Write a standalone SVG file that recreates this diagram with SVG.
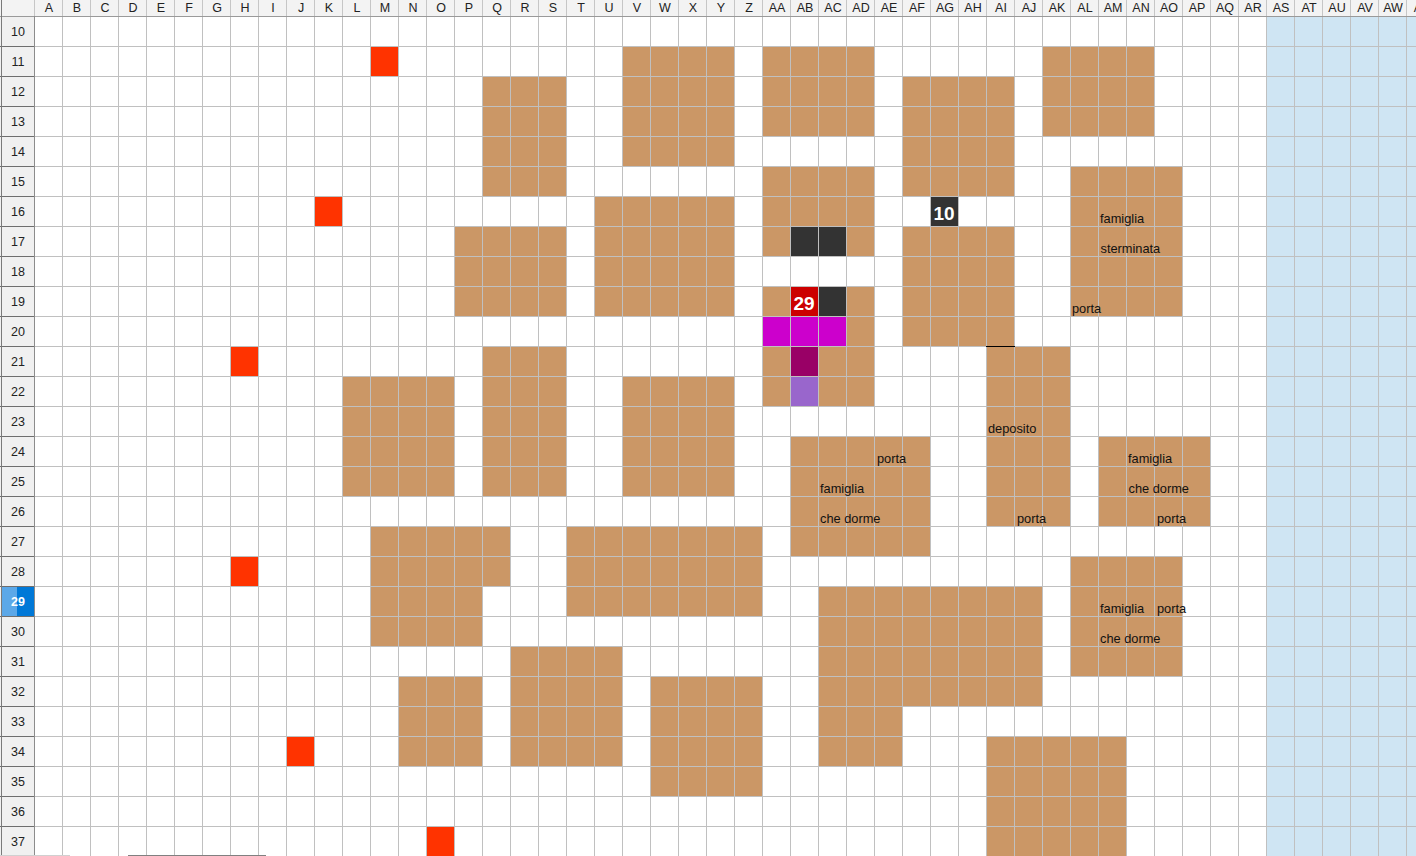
<svg xmlns="http://www.w3.org/2000/svg" width="1416" height="856" viewBox="0 0 1416 856">
<style>
.b{fill:#CB9766}
.r{fill:#FF3300}
.k{fill:#333333}
.lbl{font-family:"Liberation Sans",Arial,sans-serif;font-size:12.8px;fill:#111}
.num{font-family:"Liberation Sans",Arial,sans-serif;font-size:19px;font-weight:bold;fill:#fff;text-anchor:middle}
.ch{font-family:"Liberation Sans",Arial,sans-serif;font-size:12.5px;fill:#222;text-anchor:middle}
.rh{font-family:"Liberation Sans",Arial,sans-serif;font-size:12.5px;fill:#222;text-anchor:middle}
</style>
<rect x="0" y="0" width="1416" height="856" fill="#fff"/>
<rect x="1266" y="16" width="150" height="840" fill="#CFE5F3"/>

<g id="blocks">
<rect class="b" x="482" y="76" width="84" height="120"/>
<rect class="b" x="622" y="46" width="112" height="120"/>
<rect class="b" x="762" y="46" width="112" height="90"/>
<rect class="b" x="902" y="76" width="112" height="120"/>
<rect class="b" x="1042" y="46" width="112" height="90"/>
<rect class="b" x="1070" y="166" width="112" height="150"/>
<rect class="b" x="762" y="166" width="112" height="90"/>
<rect class="b" x="762" y="286" width="112" height="120"/>
<rect class="b" x="594" y="196" width="140" height="120"/>
<rect class="b" x="454" y="226" width="112" height="90"/>
<rect class="b" x="902" y="226" width="112" height="120"/>
<rect class="b" x="482" y="346" width="84" height="150"/>
<rect class="b" x="342" y="376" width="112" height="120"/>
<rect class="b" x="622" y="376" width="112" height="120"/>
<rect class="b" x="986" y="346" width="84" height="180"/>
<rect class="b" x="790" y="436" width="140" height="120"/>
<rect class="b" x="1098" y="436" width="112" height="90"/>
<rect class="b" x="370" y="526" width="140" height="60"/>
<rect class="b" x="370" y="586" width="112" height="60"/>
<rect class="b" x="566" y="526" width="196" height="90"/>
<rect class="b" x="1070" y="556" width="112" height="120"/>
<rect class="b" x="818" y="586" width="224" height="120"/>
<rect class="b" x="818" y="706" width="84" height="60"/>
<rect class="b" x="510" y="646" width="112" height="120"/>
<rect class="b" x="398" y="676" width="84" height="90"/>
<rect class="b" x="650" y="676" width="112" height="120"/>
<rect class="b" x="986" y="736" width="140" height="120"/>
</g>

<g id="marks">
<rect class="r" x="370" y="46" width="28" height="30"/>
<rect class="r" x="314" y="196" width="28" height="30"/>
<rect class="r" x="230" y="346" width="28" height="30"/>
<rect class="r" x="230" y="556" width="28" height="30"/>
<rect class="r" x="286" y="736" width="28" height="30"/>
<rect class="r" x="426" y="826" width="28" height="30"/>
<rect class="k" x="790" y="226" width="56" height="30"/>
<rect class="k" x="818" y="286" width="28" height="30"/>
<rect class="k" x="930" y="196" width="28" height="30"/>
<rect fill="#CC0000" x="790" y="286" width="28" height="30"/>
<rect fill="#CC00CC" x="762" y="316" width="84" height="30"/>
<rect fill="#990066" x="790" y="346" width="28" height="30"/>
<rect fill="#9966CC" x="790" y="376" width="28" height="30"/>
</g>

<path id="grid" fill="none" stroke="#C0C0C0" stroke-width="1" d="M62.5 16V856M90.5 16V856M118.5 16V856M146.5 16V856M174.5 16V856M202.5 16V856M230.5 16V856M258.5 16V856M286.5 16V856M314.5 16V856M342.5 16V856M370.5 16V856M398.5 16V856M426.5 16V856M454.5 16V856M482.5 16V856M510.5 16V856M538.5 16V856M566.5 16V856M594.5 16V856M622.5 16V856M650.5 16V856M678.5 16V856M706.5 16V856M734.5 16V856M762.5 16V856M790.5 16V856M818.5 16V856M846.5 16V856M874.5 16V856M902.5 16V856M930.5 16V856M958.5 16V856M986.5 16V856M1014.5 16V856M1042.5 16V856M1070.5 16V856M1098.5 16V856M1126.5 16V856M1154.5 16V856M1182.5 16V856M1210.5 16V856M1238.5 16V856M1266.5 16V856M1294.5 16V856M1322.5 16V856M1350.5 16V856M1378.5 16V856M1406.5 16V856M34 46.5H1416M34 76.5H1416M34 106.5H1416M34 136.5H1416M34 166.5H1416M34 196.5H1416M34 226.5H1416M34 256.5H1416M34 286.5H1416M34 316.5H1416M34 346.5H1416M34 376.5H1416M34 406.5H1416M34 436.5H1416M34 466.5H1416M34 496.5H1416M34 526.5H1416M34 556.5H1416M34 586.5H1416M34 616.5H1416M34 646.5H1416M34 676.5H1416M34 706.5H1416M34 736.5H1416M34 766.5H1416M34 796.5H1416M34 826.5H1416"/>
<line x1="986" y1="346.5" x2="1015" y2="346.5" stroke="#000" stroke-width="1"/>

<g id="values">
<text class="num" x="944" y="220">10</text>
<text class="num" x="804" y="310">29</text>
</g>

<g id="labels">
<text class="lbl" x="1100" y="223">famiglia</text>
<text class="lbl" x="1100.5" y="253">sterminata</text>
<text class="lbl" x="1072" y="313">porta</text>
<text class="lbl" x="988" y="433">deposito</text>
<text class="lbl" x="877" y="463">porta</text>
<text class="lbl" x="820" y="493">famiglia</text>
<text class="lbl" x="820" y="523">che dorme</text>
<text class="lbl" x="1017" y="523">porta</text>
<text class="lbl" x="1128" y="463">famiglia</text>
<text class="lbl" x="1128.5" y="493">che dorme</text>
<text class="lbl" x="1157" y="523">porta</text>
<text class="lbl" x="1100" y="613">famiglia</text>
<text class="lbl" x="1157" y="613">porta</text>
<text class="lbl" x="1100" y="643">che dorme</text>
</g>

<g id="colheader">
<rect x="0" y="0" width="1416" height="16" fill="#F3F3F3"/>
<path fill="none" stroke="#C6C6C6" d="M34.5 0V16M62.5 0V16M90.5 0V16M118.5 0V16M146.5 0V16M174.5 0V16M202.5 0V16M230.5 0V16M258.5 0V16M286.5 0V16M314.5 0V16M342.5 0V16M370.5 0V16M398.5 0V16M426.5 0V16M454.5 0V16M482.5 0V16M510.5 0V16M538.5 0V16M566.5 0V16M594.5 0V16M622.5 0V16M650.5 0V16M678.5 0V16M706.5 0V16M734.5 0V16M762.5 0V16M790.5 0V16M818.5 0V16M846.5 0V16M874.5 0V16M902.5 0V16M930.5 0V16M958.5 0V16M986.5 0V16M1014.5 0V16M1042.5 0V16M1070.5 0V16M1098.5 0V16M1126.5 0V16M1154.5 0V16M1182.5 0V16M1210.5 0V16M1238.5 0V16M1266.5 0V16M1294.5 0V16M1322.5 0V16M1350.5 0V16M1378.5 0V16M1406.5 0V16"/>
<line x1="0" y1="16.5" x2="1416" y2="16.5" stroke="#9A9A9A"/>
<text class="ch" x="49" y="12">A</text><text class="ch" x="77" y="12">B</text><text class="ch" x="105" y="12">C</text><text class="ch" x="133" y="12">D</text><text class="ch" x="161" y="12">E</text><text class="ch" x="189" y="12">F</text><text class="ch" x="217" y="12">G</text><text class="ch" x="245" y="12">H</text><text class="ch" x="273" y="12">I</text><text class="ch" x="301" y="12">J</text><text class="ch" x="329" y="12">K</text><text class="ch" x="357" y="12">L</text><text class="ch" x="385" y="12">M</text><text class="ch" x="413" y="12">N</text><text class="ch" x="441" y="12">O</text><text class="ch" x="469" y="12">P</text><text class="ch" x="497" y="12">Q</text><text class="ch" x="525" y="12">R</text><text class="ch" x="553" y="12">S</text><text class="ch" x="581" y="12">T</text><text class="ch" x="609" y="12">U</text><text class="ch" x="637" y="12">V</text><text class="ch" x="665" y="12">W</text><text class="ch" x="693" y="12">X</text><text class="ch" x="721" y="12">Y</text><text class="ch" x="749" y="12">Z</text><text class="ch" x="777" y="12">AA</text><text class="ch" x="805" y="12">AB</text><text class="ch" x="833" y="12">AC</text><text class="ch" x="861" y="12">AD</text><text class="ch" x="889" y="12">AE</text><text class="ch" x="917" y="12">AF</text><text class="ch" x="945" y="12">AG</text><text class="ch" x="973" y="12">AH</text><text class="ch" x="1001" y="12">AI</text><text class="ch" x="1029" y="12">AJ</text><text class="ch" x="1057" y="12">AK</text><text class="ch" x="1085" y="12">AL</text><text class="ch" x="1113" y="12">AM</text><text class="ch" x="1141" y="12">AN</text><text class="ch" x="1169" y="12">AO</text><text class="ch" x="1197" y="12">AP</text><text class="ch" x="1225" y="12">AQ</text><text class="ch" x="1253" y="12">AR</text><text class="ch" x="1281" y="12">AS</text><text class="ch" x="1309" y="12">AT</text><text class="ch" x="1337" y="12">AU</text><text class="ch" x="1365" y="12">AV</text><text class="ch" x="1393" y="12">AW</text><text class="ch" x="1418" y="12">A</text>
</g>

<g id="rowheader">
<rect x="0" y="17" width="34" height="839" fill="#F0F0F0"/>
<rect x="1" y="587" width="33" height="30" fill="#0078D7"/>
<rect x="2" y="587" width="15" height="30" fill="#5CA8E8"/>
<path fill="none" stroke="#6E6E6E" d="M0 46.5H34M0 76.5H34M0 106.5H34M0 136.5H34M0 166.5H34M0 196.5H34M0 226.5H34M0 256.5H34M0 286.5H34M0 316.5H34M0 346.5H34M0 376.5H34M0 406.5H34M0 436.5H34M0 466.5H34M0 496.5H34M0 526.5H34M0 556.5H34M0 586.5H34M0 616.5H34M0 646.5H34M0 676.5H34M0 706.5H34M0 736.5H34M0 766.5H34M0 796.5H34M0 826.5H34"/>
<line x1="1.5" y1="0" x2="1.5" y2="856" stroke="#7A7A7A"/>
<line x1="34.5" y1="16" x2="34.5" y2="856" stroke="#8C8C8C"/>
<text class="rh" x="18" y="36">10</text><text class="rh" x="18" y="66">11</text><text class="rh" x="18" y="96">12</text><text class="rh" x="18" y="126">13</text><text class="rh" x="18" y="156">14</text><text class="rh" x="18" y="186">15</text><text class="rh" x="18" y="216">16</text><text class="rh" x="18" y="246">17</text><text class="rh" x="18" y="276">18</text><text class="rh" x="18" y="306">19</text><text class="rh" x="18" y="336">20</text><text class="rh" x="18" y="366">21</text><text class="rh" x="18" y="396">22</text><text class="rh" x="18" y="426">23</text><text class="rh" x="18" y="456">24</text><text class="rh" x="18" y="486">25</text><text class="rh" x="18" y="516">26</text><text class="rh" x="18" y="546">27</text><text class="rh" x="18" y="576">28</text><text class="rh" x="18" y="606" style="fill:#fff;font-weight:bold">29</text><text class="rh" x="18" y="636">30</text><text class="rh" x="18" y="666">31</text><text class="rh" x="18" y="696">32</text><text class="rh" x="18" y="726">33</text><text class="rh" x="18" y="756">34</text><text class="rh" x="18" y="786">35</text><text class="rh" x="18" y="816">36</text><text class="rh" x="18" y="846">37</text>
</g>
<line x1="0" y1="855.5" x2="70" y2="855.5" stroke="#D0D0D0"/>
<line x1="128" y1="855.5" x2="266" y2="855.5" stroke="#808080"/>
</svg>
